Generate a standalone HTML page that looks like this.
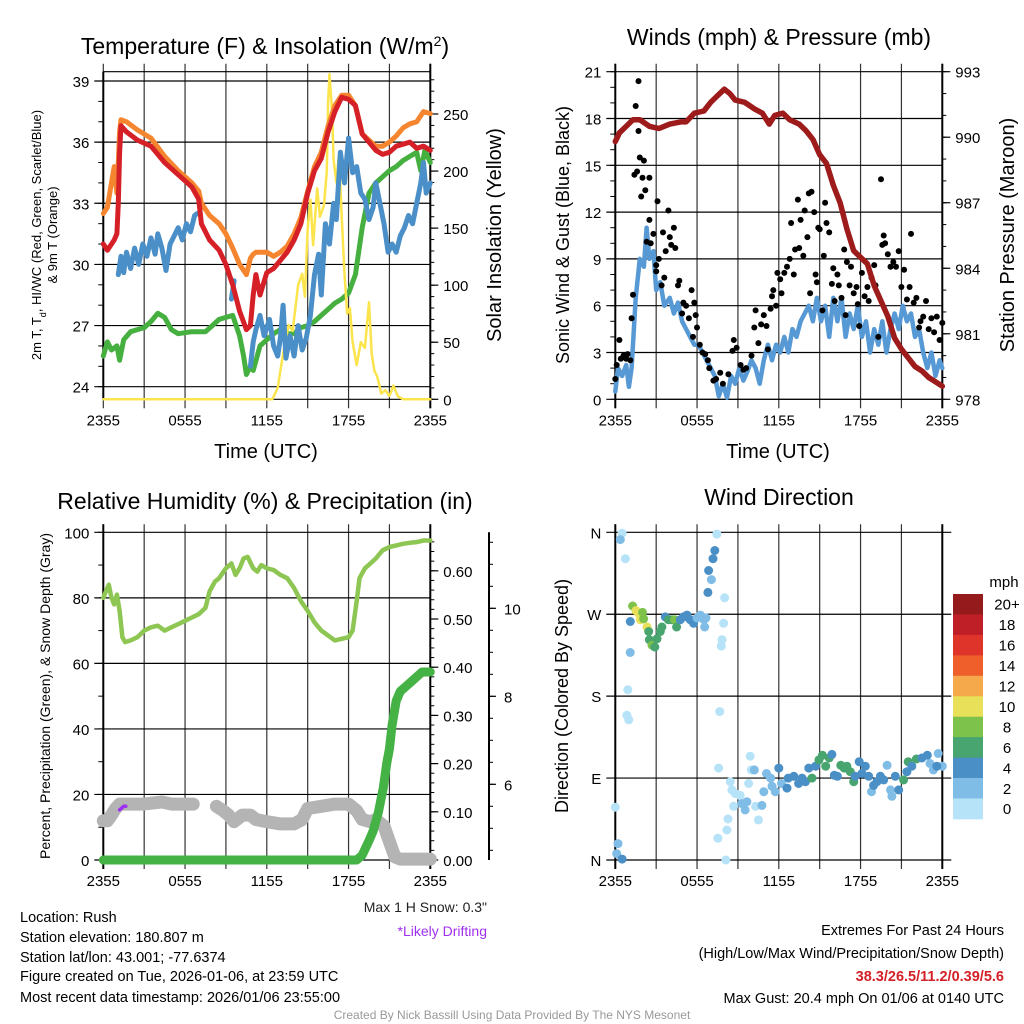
<!DOCTYPE html>
<html><head><meta charset="utf-8">
<style>
html,body{margin:0;padding:0;background:#fff;}
svg{display:block;font-family:"Liberation Sans",Arial,sans-serif;}
</style></head>
<body>
<svg id="chart" width="1024" height="1024" viewBox="0 0 1024 1024" xmlns="http://www.w3.org/2000/svg">
<rect width="1024" height="1024" fill="#fff"/>
<text x="265" y="54" font-size="23" text-anchor="middle">Temperature (F) &amp; Insolation (W/m<tspan baseline-shift="super" font-size="14">2</tspan>)</text>
<text x="779" y="45" font-size="23" text-anchor="middle">Winds (mph) &amp; Pressure (mb)</text>
<text x="265" y="509" font-size="23" text-anchor="middle">Relative Humidity (%) &amp; Precipitation (in)</text>
<text x="779" y="505" font-size="23" text-anchor="middle">Wind Direction</text>

<text x="266" y="458" font-size="20" text-anchor="middle">Time (UTC)</text>
<text x="778" y="458" font-size="20" text-anchor="middle">Time (UTC)</text>

<text transform="translate(41,235) rotate(-90)" font-size="13" text-anchor="middle">2m T, T<tspan baseline-shift="sub" font-size="9">d</tspan>, HI/WC (Red, Green, Scarlet/Blue)</text>
<text transform="translate(57,235) rotate(-90)" font-size="13" text-anchor="middle">&amp; 9m T (Orange)</text>
<text transform="translate(501,235) rotate(-90)" font-size="20" text-anchor="middle">Solar Insolation (Yellow)</text>
<text transform="translate(569,235) rotate(-90)" font-size="18" text-anchor="middle">Sonic Wind &amp; Gust (Blue, Black)</text>
<text transform="translate(1014,235) rotate(-90)" font-size="20" text-anchor="middle">Station Pressure (Maroon)</text>
<text transform="translate(50,696) rotate(-90)" font-size="14" text-anchor="middle">Percent, Precipitation (Green), &amp; Snow Depth (Gray)</text>
<text transform="translate(568,696) rotate(-90)" font-size="18" text-anchor="middle">Direction (Colored By Speed)</text>

<text x="487" y="912" font-size="14" text-anchor="end" fill="#222">Max 1 H Snow: 0.3"</text>
<text x="487" y="936" font-size="14" text-anchor="end" fill="#a030f0">*Likely Drifting</text>
<g font-size="14.5" fill="#000">
<text x="20" y="922">Location: Rush</text>
<text x="20" y="942">Station elevation: 180.807 m</text>
<text x="20" y="962">Station lat/lon: 43.001; -77.6374</text>
<text x="20" y="981">Figure created on Tue, 2026-01-06, at 23:59 UTC</text>
<text x="20" y="1002">Most recent data timestamp: 2026/01/06 23:55:00</text>
</g>
<g font-size="14.5" text-anchor="end">
<text x="1004" y="935">Extremes For Past 24 Hours</text>
<text x="1004" y="958">(High/Low/Max Wind/Precipitation/Snow Depth)</text>
<text x="1004" y="981" fill="#d42027" font-weight="bold">38.3/26.5/11.2/0.39/5.6</text>
<text x="1004" y="1003">Max Gust: 20.4 mph On 01/06 at 0140 UTC</text>
</g>
<text x="512" y="1019" font-size="12" fill="#999" text-anchor="middle">Created By Nick Bassill Using Data Provided By The NYS Mesonet</text>
</svg>
<script>
// ---------- data ----------
const xTickLabels = ["2355","0555","1155","1755","2355"];
const tempTicks = [24,27,30,33,36,39];
const insolTicks = [0,50,100,150,200,250];
const windTicks = [0,3,6,9,12,15,18,21];
const presTicks = [978,981,984,987,990,993];
const rhTicks = [0,20,40,60,80,100];
const precipTicks = [0,0.1,0.2,0.3,0.4,0.5,0.6];
const snowTicks = [6,8,10];
const dirTicks = ["N","W","S","E","N"];
const speedBins = ["0","2","4","6","8","10","12","14","16","18","20+"];

const tempTimes = [0,0.3,0.8,1.0,1.1,1.2,1.3,1.7,2.5,3.5,4.5,5.5,6.5,7.0,7.2,7.8,8.5,9.0,9.5,10.0,10.5,10.8,11.0,11.2,11.5,12.0,12.5,13.0,13.5,14.0,14.5,15.0,15.5,16.0,16.5,17.0,17.5,18.0,18.5,19.0,19.5,20.0,20.5,21.0,21.5,22.0,22.5,23.0,23.5,24];
const tempRed = [31.0,30.7,31.2,31.5,33,35.5,36.8,36.5,36.1,35.8,35.0,34.4,33.8,33.2,32.0,31.2,30.7,30.0,29.0,27.7,26.8,27.0,28.5,29.5,28.5,29.6,29.8,30.2,30.6,31.2,32.0,33.5,34.6,35.2,36.5,37.5,38.2,38.1,37.8,36.4,36.0,35.6,35.4,35.5,35.8,35.9,36.0,35.7,35.8,35.6];
const tempOrange = [32.5,32.8,34.8,33.5,35.0,36.5,37.1,37.0,36.6,36.2,35.3,34.6,34.0,33.6,33.0,32.4,32.0,31.5,30.8,30.0,29.5,30.3,30.5,30.6,30.6,30.6,30.4,30.6,30.9,31.5,32.3,33.6,34.8,35.5,36.8,37.8,38.3,38.3,37.8,36.4,36.1,35.8,35.8,36.0,36.3,36.7,36.9,37.0,37.5,37.4];
const dewTimes = [0,0.3,0.6,1.0,1.2,1.5,2.0,2.5,3.0,3.5,4.0,4.5,5.0,5.5,6.5,7.5,8.0,8.5,9.0,9.5,10.0,10.3,10.5,10.8,11.0,11.5,12.0,12.5,13.0,13.5,14.0,14.5,15.0,15.5,16.0,16.5,17.0,17.5,18.0,18.5,19.0,19.5,20.0,20.5,21.0,21.5,22.0,22.5,23.0,23.3,23.6,24];
const dewGreen = [25.5,26.2,25.8,26.0,25.3,26.3,26.7,26.8,26.9,27.2,27.6,27.4,26.8,26.6,26.7,26.7,27.0,27.3,27.4,27.5,26.5,25.5,24.6,25.0,24.8,26.0,26.3,26.6,26.8,26.6,26.6,26.9,27.0,27.2,27.5,27.8,28.1,28.3,28.6,29.5,31.8,33.5,34.0,34.3,34.6,34.8,35.1,35.3,35.5,34.6,35.6,35.0];
const chillTimes = [1.1,1.3,1.5,1.7,2.0,2.3,2.6,2.9,3.2,3.5,3.8,4.0,4.3,4.6,4.9,5.2,5.5,5.8,6.1,6.4,6.7,6.9,null,9.4,9.6,null,10.8,11.0,11.2,11.5,11.8,12.2,12.5,12.8,13.0,13.2,13.4,13.7,14.0,14.3,14.6,14.9,15.2,15.5,15.8,16.0,16.3,16.6,16.9,17.1,17.4,17.7,18.0,18.3,18.6,18.9,19.2,19.5,19.8,20.0,20.3,20.6,20.9,21.2,21.5,21.8,22.1,22.4,22.7,23.0,23.3,23.5,23.7,24];
const chillBlue = [29.5,30.4,29.6,30.6,29.8,30.8,30.0,31.0,30.4,31.3,30.5,31.5,30.8,29.7,31.0,31.4,31.8,31.2,32.0,31.6,32.4,32.5,null,28.3,29.2,null,25.0,26.2,26.8,27.5,26.5,27.3,26.0,25.5,26.4,28.0,25.4,26.5,25.5,27.0,25.8,26.4,27.5,29.5,30.5,28.5,32.0,31.0,33.0,32.2,35.5,34.0,36.2,34.5,34.8,33.5,33.2,32.2,32.8,34.0,33.0,32.0,30.6,31.0,30.6,31.4,31.8,32.4,32.0,33.0,34.0,35.0,33.5,34.0];
const insolTimes = [0,12.4,12.8,13.2,13.6,13.9,14.3,14.6,14.8,15.0,15.2,15.4,15.7,15.9,16.2,16.4,16.5,16.6,16.8,16.9,17.1,17.3,17.5,17.7,17.9,18.1,18.3,18.6,18.9,19.2,19.5,19.7,19.9,20.1,20.4,20.7,21.0,21.3,21.6,22.0,24];
const insolValues = [0,0,10,40,65,60,100,110,90,150,175,135,185,160,170,200,260,285,250,210,190,215,160,110,75,80,50,30,50,45,85,40,25,20,5,8,3,12,3,0,0];

const windTimes = [0,0.2,0.5,0.8,1.0,1.2,1.5,1.8,2.1,2.3,2.5,2.8,3.0,3.3,3.6,4.0,4.3,4.6,4.9,5.2,5.5,5.8,6.1,6.4,6.7,7.0,7.3,7.6,7.9,8.2,8.5,8.8,9.1,9.4,9.7,10.0,10.3,10.6,10.9,11.2,11.5,11.8,12.1,12.4,12.7,13.0,13.3,13.6,13.9,14.2,14.5,14.8,15.1,15.4,15.7,16.0,16.3,16.6,16.9,17.2,17.5,17.8,18.1,18.4,18.7,19.0,19.3,19.6,19.9,20.2,20.5,20.8,21.1,21.4,21.7,22.0,22.3,22.6,22.9,23.2,23.5,23.8,24];
const windSpeed = [0.5,2.0,1.5,2.2,0.8,2.0,6.5,9.0,8.5,11.0,9.0,9.5,7.0,7.5,6.0,6.5,5.5,6.2,5.0,4.5,4.0,3.5,3.5,3.0,2.5,2.0,1.5,0.2,1.0,0.1,1.5,1.0,2.0,1.2,1.8,2.5,2.0,1.0,2.5,3.5,2.5,3.5,3.0,4.0,3.0,4.5,4.0,5.0,5.5,6.0,5.0,6.5,5.0,6.0,4.0,6.5,5.0,6.5,4.0,5.5,4.5,6.0,4.0,5.0,3.0,4.5,3.5,5.0,3.0,4.5,5.5,4.5,6.0,5.0,5.5,4.0,4.5,3.0,2.0,3.0,1.5,2.5,2.0];
const gustTimes = [0.0,0.1,0.3,0.4,0.6,0.8,0.9,1.1,1.2,1.3,1.4,1.5,1.6,1.7,1.7,1.8,1.9,2.0,2.1,2.2,2.3,2.5,2.5,2.6,2.8,3.0,3.0,3.1,3.2,3.4,3.5,3.6,3.7,3.9,4.0,4.1,4.3,4.4,4.6,4.7,4.9,5.0,5.2,5.4,5.6,5.7,5.8,5.9,6.0,6.2,6.4,6.6,6.8,6.9,7.2,7.4,7.7,7.9,8.3,8.6,8.7,8.9,9.2,9.4,9.6,10.0,10.2,10.3,10.5,10.7,10.9,11.1,11.2,11.4,11.5,11.6,11.8,11.9,12.1,12.2,12.4,12.6,12.8,12.9,13.1,13.2,13.4,13.5,13.6,13.8,13.9,14.1,14.2,14.3,14.4,14.6,14.7,14.8,14.9,15.0,15.2,15.3,15.4,15.5,15.7,15.9,16.0,16.1,16.3,16.4,16.6,16.8,16.9,17.0,17.2,17.3,17.5,17.7,17.8,17.9,18.1,18.3,18.5,18.6,18.8,19.0,19.1,19.3,19.5,19.6,19.7,19.8,20.0,20.2,20.4,20.6,20.8,21.0,21.2,21.4,21.6,21.7,21.9,22.1,22.3,22.4,22.6,22.8,23.0,23.2,23.4,23.6,23.8,24.0];
const gustSpeed = [1.3,2.2,3.8,2.6,2.8,2.6,2.9,2.5,5.2,6.7,14.4,18.8,14.6,17.2,20.4,15.5,13.0,14.2,15.3,13.4,10.1,14.2,11.5,10.0,10.6,8.6,8.2,12.7,9.0,7.3,10.7,7.8,9.5,12.1,10.4,9.9,11.0,9.7,7.3,7.6,5.5,6.2,6.0,5.2,7.0,4.0,6.2,5.4,4.6,3.5,3.0,2.9,2.5,2.0,1.2,1.3,1.7,1.0,1.6,3.1,3.8,3.3,2.2,1.9,2.0,2.8,4.6,5.7,3.6,4.8,5.4,4.7,3.2,5.8,6.6,7.0,6.0,8.1,7.7,6.8,8.1,8.5,9.0,11.3,8.0,9.6,12.8,9.7,11.5,9.2,12.1,10.4,13.2,6.8,13.3,12.0,8.0,7.5,11.0,10.9,5.7,9.2,12.6,11.3,10.7,7.4,8.4,6.3,8.0,7.3,6.5,9.6,5.4,8.8,7.3,8.5,6.8,7.2,6.1,4.7,8.1,6.6,7.2,6.3,7.8,8.6,7.3,4.0,14.1,9.9,10.5,10.0,9.3,8.5,8.8,8.5,9.5,7.2,8.3,6.4,7.2,10.6,6.2,6.5,4.6,5.0,5.3,6.3,4.5,5.2,4.3,5.3,3.8,4.9];
const presTimes = [0,0.3,0.8,1.3,1.8,2.5,3.2,4.0,4.8,5.2,5.8,6.5,7.0,7.5,8.0,8.4,8.8,9.5,10.2,10.8,11.3,11.7,12.3,12.8,13.5,14.0,14.5,15.0,15.5,16.0,16.5,17.0,17.5,18.0,18.5,19.0,19.5,20.0,20.5,21.0,21.5,22.0,22.5,23.0,23.5,24];
const presValues = [989.8,990.2,990.5,990.8,990.8,990.5,990.4,990.6,990.7,990.7,991.1,991.2,991.6,991.9,992.2,992.0,991.7,991.6,991.3,991.1,990.6,991.0,991.1,990.8,990.6,990.3,989.9,989.2,988.8,987.8,987.0,985.8,984.8,984.5,984.2,983.2,982.5,981.8,980.8,980.3,979.9,979.5,979.3,979.0,978.8,978.6];

const rhTimes = [0,0.2,0.4,0.6,0.8,1.0,1.2,1.4,1.6,2.0,2.5,3.0,3.5,4.0,4.5,5.0,5.5,6.0,6.5,7.0,7.5,7.8,8.2,8.5,9.0,9.4,9.7,10.0,10.3,10.6,11.0,11.3,11.6,12.0,12.5,13.0,13.5,14.0,14.5,15.0,15.5,16.0,16.5,17.0,17.5,18.0,18.3,18.6,18.8,19.2,19.6,20.0,20.5,21.0,21.5,22.0,22.5,23.0,23.5,24];
const rhValues = [80,82,84,80,78,81,76,68,66.5,67,68,70,71,71.5,70,71,72,73,74,75,77,82,85,86,89,90.5,87,89,92,92.5,89,88,90,89,88.5,87,86,83,79,76,72.5,70,68.5,67,67.5,68,70,79,86,89,90.5,92,94.5,95.5,96,96.5,96.8,97,97.5,97.5];
const precipTimes = [0,18.6,19.0,19.5,19.8,20.2,20.55,20.8,21.0,21.2,21.5,21.8,22.2,22.6,23.0,23.4,24];
const precipValues = [0,0,0.01,0.04,0.06,0.10,0.15,0.20,0.23,0.28,0.33,0.35,0.36,0.37,0.38,0.39,0.39];
const snowTimes = [0,0.3,0.6,0.9,1.2,2.0,3.0,4.3,5.0,6.0,6.6,null,8.3,8.8,9.2,9.6,10.2,10.8,11.2,12.0,13.0,14.0,14.6,15.0,16.0,17.0,18.0,18.6,19.0,19.6,20.0,20.6,21.0,21.4,21.8,24];
const snowValues = [5.17,5.17,5.3,5.45,5.55,5.55,5.55,5.6,5.55,5.55,5.55,null,5.5,5.4,5.3,5.15,5.3,5.3,5.2,5.15,5.1,5.1,5.2,5.45,5.5,5.55,5.55,5.4,5.2,5.15,5.2,5.05,4.7,4.35,4.3,4.3];
const driftTimes = [1.2,1.35,1.5,1.65];
const driftValues = [5.42,5.46,5.5,5.5];

const dirTimes = [0.5,0.37,0.74,1.1,1.09,0.92,0.85,0.98,0.0,0.2,0.1,0.5,1.27,1.52,1.7,2.0,1.84,2.08,2.33,2.45,2.5,2.69,2.9,3.06,3.3,3.42,3.67,3.9,4.16,4.36,4.5,4.77,5.0,5.26,5.5,5.75,6.0,6.24,6.5,6.66,6.56,6.8,7.05,6.85,7.17,7.3,7.46,8.02,7.95,7.83,7.78,7.66,7.58,7.53,8.19,8.12,8.27,8.44,8.56,8.68,8.8,9.17,9.3,9.53,9.66,9.9,9.98,9.78,10.2,10.3,10.5,10.76,10.9,11.1,11.4,11.5,11.74,12.0,12.2,12.6,12.7,13.1,13.45,13.7,13.95,14.2,14.44,14.7,14.94,15.2,15.44,15.7,15.9,16.07,16.3,16.55,16.8,17.0,17.25,17.5,17.6,17.9,18.1,18.35,18.6,18.8,18.96,19.2,19.46,19.7,19.95,20.2,20.3,20.55,20.8,21.16,21.4,21.5,21.76,22.1,22.5,22.9,23.1,23.35,23.7,24,23.6];
const dirValues = [359,352,331,262,228,187,159,154,58,18,7,1,279,274,271,272,264,265,256,251,242,236,234,243,251,256,267,264,264,264,256,264,267,269,264,260,266,269,264,266,256,294,308,318,331,340,358,288,260,242,235,163,101,24,33,0,45,86,77,59,73,71,62,55,64,114,99,84,99,59,44,60,75,95,90,81,75,101,84,79,90,92,84,90,86,101,90,103,110,115,103,112,116,93,92,104,101,103,97,86,92,108,95,103,92,75,82,86,92,88,104,77,70,92,77,88,97,108,103,111,112,115,106,99,117,103,103];
const dirSpeeds = [0,2,0,4,2,0,0,0,0,2,2,4,8,10,10,8,10,8,10,6,6,8,6,6,6,6,4,6,6,8,6,4,4,4,4,4,2,2,2,2,2,4,2,4,4,4,0,0,0,0,0,0,0,0,0,0,0,0,0,0,0,0,2,2,2,0,0,0,2,0,0,2,2,2,2,2,2,4,2,4,4,4,4,4,4,4,6,4,6,6,6,6,4,4,4,6,6,6,6,6,4,4,4,4,4,2,4,4,4,4,2,2,2,4,4,6,4,6,4,6,4,4,2,2,2,2,4];
const binColors = ["#b6e3f7","#80bde6","#4a8fc6","#48a56f","#7dc24a","#e7e058","#f6a94b","#ef5f2c","#df342a","#bf1f26","#951a1c"];

// ---------- scales ----------
const X1 = t => 103.3 + t * 13.625;
const X2 = t => 615.3 + t * 13.625;
const yT = v => 386.7 - (v - 24) * 20.38;
const yI = v => 399.3 - v * 1.1412;
const yW = v => 399.3 - v * 15.6;
const yP = v => 399.3 - (v - 978) * 21.84;
const yRH = v => 860 - v * 3.277;
const yPR = v => 860 - v * 482;
const ySN = v => 784.3 - (v - 6) * 44;
const yD = v => 860 - v * 0.9103;

const svg = document.getElementById('chart');
const NS = 'http://www.w3.org/2000/svg';
function mk(tag, name, attrs, parent) {
  const e = document.createElementNS(NS, tag);
  
  
  for (const k in attrs) e.setAttribute(k, attrs[k]);
  (parent || svg).appendChild(e);
  return e;
}
function line(name, x1, y1, x2, y2, w, c, g) { return mk('line', name, {x1, y1, x2, y2, stroke: c || '#000', 'stroke-width': w || 1}, g); }
function txt(name, x, y, s, anchor, size, g) { const e = mk('text', name, {x, y, 'text-anchor': anchor || 'middle', 'font-size': size || 15}, g); e.textContent = s; return e; }
function path(name, ts, vs, fx, fy, color, w, g) {
  let d = '', pen = false;
  for (let i = 0; i < ts.length; i++) {
    if (ts[i] === null || vs[i] === null) { pen = false; continue; }
    d += (pen ? 'L' : 'M') + fx(ts[i]).toFixed(1) + ',' + fy(vs[i]).toFixed(1);
    pen = true;
  }
  return mk('path', name, {d, fill: 'none', stroke: color, 'stroke-width': w, 'stroke-linejoin': 'round', 'stroke-linecap': 'round'}, g);
}

function frame(X, top, bot, pfx) {
  const g = mk('g', pfx + '-grid', {});
  for (let i = 0; i <= 8; i++) {
    const x = X(i * 3);
    line(pfx + '-vgrid', x, top - 8, x, bot + 9, 1.2, '#333', g);
  }
  for (let i = 0; i < xTickLabels.length; i++) txt(pfx + '-x-tick-label', X(i * 6), bot + 26, xTickLabels[i], 'middle', 15, g);
  return g;
}

// ===== Panel 1 =====
(function(){
  const top = 71.7, bot = 399.3, L = X1(0), R = X1(24);
  const g = frame(X1, top, bot, 'temp');
  line('temp-top-line', L, top, R, top, 1.2, '#000', g);
  tempTicks.forEach(v => { line('temp-hgrid', L - 9, yT(v), R, yT(v), 1.2, '#000', g); txt('temp-tick-label', L - 14, yT(v) + 6, String(v), 'end', 15, g); });
  for (let v = 24; v <= 39; v++) line('temp-minor-tick', L - 5, yT(v), L, yT(v), 1, '#000', g);
  insolTicks.forEach(v => { line('insol-tick', R, yI(v), R + 8, yI(v), 1.2, '#000', g); txt('insol-tick-label', R + 13, yI(v) + 6, String(v), 'start', 15, g); });
  for (let v = 0; v <= 280; v += 10) line('insol-minor-tick', R, yI(v), R + 4, yI(v), 1, '#000', g);
  line('temp-bottom-line', L, bot, R, bot, 1.2, '#000', g);
  line('temp-left-axis', L, top, L, bot, 2, '#000', g);
  line('temp-right-axis', R, top - 8, R, bot + 9, 2, '#000', g);
  const s = mk('g', 'temp-series', {});
  path('dewpoint-line', dewTimes, dewGreen, X1, yT, '#45b03f', 5, s);
  path('insolation-line', insolTimes, insolValues, X1, yI, '#fce44d', 2.5, s);
  path('windchill-line', chillTimes, chillBlue, X1, yT, '#4a8fc8', 5, s);
  path('temp-9m-line', tempTimes, tempOrange, X1, yT, '#f5862f', 5, s);
  path('temp-2m-line', tempTimes, tempRed, X1, yT, '#d52028', 5, s);
})();

// ===== Panel 2 =====
(function(){
  const top = 71.7, bot = 399.3, L = X2(0), R = X2(24);
  const g = frame(X2, top, bot, 'wind');
  windTicks.forEach(v => { line('wind-hgrid', L - 9, yW(v), R, yW(v), 1.2, '#000', g); txt('wind-tick-label', L - 14, yW(v) + 6, String(v), 'end', 15, g); });
  for (let v = 0; v <= 21; v++) line('wind-minor-tick', L - 5, yW(v), L, yW(v), 1, '#000', g);
  presTicks.forEach(v => { line('pres-tick', R, yP(v), R + 8, yP(v), 1.2, '#000', g); txt('pres-tick-label', R + 13, yP(v) + 6, String(v), 'start', 15, g); });
  for (let v = 978; v <= 993; v++) line('pres-minor-tick', R, yP(v), R + 4, yP(v), 1, '#000', g);
  line('wind-bottom-line', L, bot, R, bot, 1.2, '#000', g);
  line('wind-left-axis', L, top - 8, L, bot + 9, 2, '#000', g);
  line('wind-right-axis', R, top - 8, R, bot + 9, 2, '#000', g);
  const s = mk('g', 'wind-series', {});
  path('sonic-wind-line', windTimes, windSpeed, X2, yW, '#5699d4', 4.5, s);
  for (let i = 0; i < gustTimes.length; i++) mk('circle', 'gust-point', {cx: X2(gustTimes[i]).toFixed(1), cy: yW(gustSpeed[i]).toFixed(1), r: 3, fill: '#000'}, s);
  path('pressure-line', presTimes, presValues, X2, yP, '#9e1b1b', 5.5, s);
})();

// ===== Panel 3 =====
(function(){
  const top = 532.3, bot = 860, L = X1(0), R = X1(24);
  const g = frame(X1, top, bot, 'rh');
  rhTicks.forEach(v => { line('rh-hgrid', L - 9, yRH(v), R, yRH(v), 1.2, '#000', g); txt('rh-tick-label', L - 14, yRH(v) + 6, String(v), 'end', 15, g); });
  for (let v = 0; v <= 100; v += 10) line('rh-minor-tick', L - 5, yRH(v), L, yRH(v), 1, '#000', g);
  precipTicks.forEach(v => { line('precip-tick', R, yPR(v), R + 8, yPR(v), 1.2, '#000', g); txt('precip-tick-label', R + 13, yPR(v) + 6, v.toFixed(2), 'start', 15, g); });
  for (let v = 0; v <= 0.68; v += 0.02) line('precip-minor-tick', R, yPR(v), R + 4, yPR(v), 1, '#000', g);
  line('rh-left-axis', L, top - 8, L, bot + 9, 2, '#000', g);
  line('rh-right-axis', R, top - 8, R, bot + 9, 2, '#000', g);
  line('snow-axis', 489, top, 489, bot, 2, '#000', g);
  for (let v = 4.5; v <= 11.5; v += 0.5) { const y = ySN(v); if (y >= top && y <= bot) line('snow-minor-tick', 489, y, 493, y, 1, '#000', g); }
  snowTicks.forEach(v => { line('snow-tick', 489, ySN(v), 496, ySN(v), 1.2, '#000', g); txt('snow-tick-label', 504, ySN(v) + 6, String(v), 'start', 15, g); });
  const s = mk('g', 'rh-series', {});
  path('snow-depth-line', snowTimes, snowValues, X1, ySN, '#b4b4b4', 13, s);
  path('drift-line', driftTimes, driftValues, X1, ySN, '#a030f0', 3.5, s);
  path('precip-line', precipTimes, precipValues, X1, yPR, '#45b245', 9, s);
  path('rh-line', rhTimes, rhValues, X1, yRH, '#8dc653', 4.5, s);
})();

// ===== Panel 4 =====
(function(){
  const top = 532.3, bot = 860, L = X2(0), R = X2(24);
  const g = frame(X2, top, bot, 'dir');
  dirTicks.forEach((s, i) => { const y = yD(360 - i * 90); line('dir-hgrid', L - 9, y, R + 9, y, 1.2, '#000', g); txt('dir-tick-label', L - 14, y + 6, s, 'end', 15, g); });
  line('dir-left-axis', L, top - 8, L, bot + 9, 2, '#000', g);
  line('dir-right-axis', R, top - 8, R, bot + 9, 2, '#000', g);
  const s = mk('g', 'direction-points', {});
  for (let i = 0; i < dirTimes.length; i++) {
    const b = Math.min(10, Math.round(dirSpeeds[i] / 2));
    mk('circle', 'direction-point', {cx: X2(dirTimes[i]).toFixed(1), cy: yD(dirValues[i]).toFixed(1), r: 4.5, fill: binColors[b]}, s);
  }
  const cb = mk('g', 'speed-colorbar', {});
  txt('colorbar-unit-label', 1004, 587, 'mph', 'middle', 15, cb);
  const cbTop = 594, cbH = 20.45;
  for (let i = 0; i < speedBins.length; i++) {
    const k = speedBins.length - 1 - i;
    mk('rect', 'colorbar-bin', {x: 953, y: (cbTop + i * cbH).toFixed(1), width: 30, height: (cbH + 0.5).toFixed(1), fill: binColors[k]}, cb);
    txt('colorbar-label', 1007, cbTop + i * cbH + cbH / 2 + 5.5, speedBins[k], 'middle', 15, cb);
  }
})();
</script>
</body></html>
